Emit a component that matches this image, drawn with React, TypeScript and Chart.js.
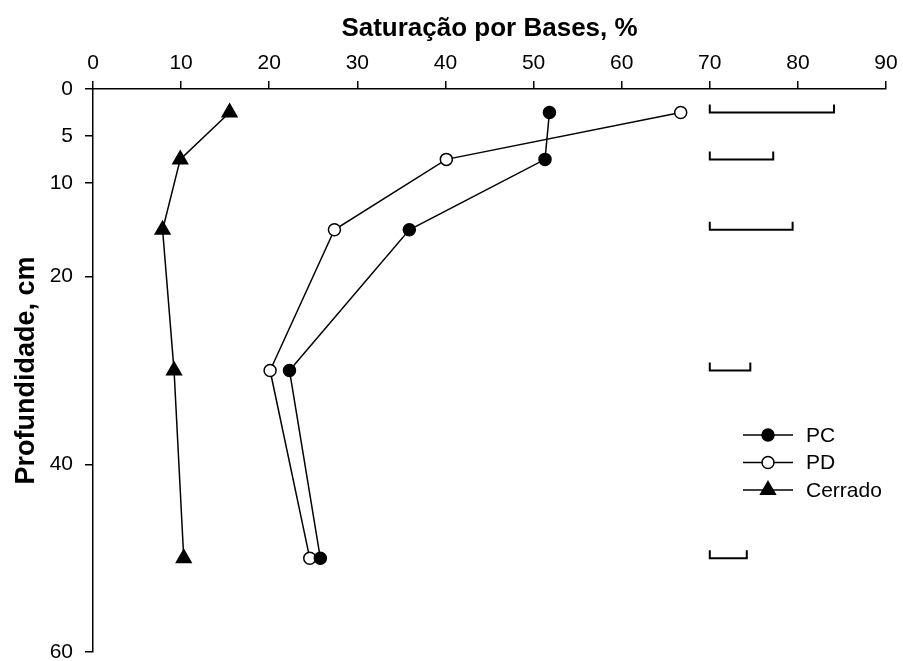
import React, { useEffect, useRef } from "react";
import { Chart, registerables } from "chart.js";

Chart.register(...registerables);

const depths = [2.5, 7.5, 15, 30, 50];
const pcValues = [51.8, 51.3, 35.9, 22.3, 25.8];
const pdValues = [66.7, 40.1, 27.4, 20.1, 24.6];
const cerradoValues = [15.5, 9.9, 7.9, 9.2, 10.3];
const lsdStart = 70;
const lsdValues = [14.1, 7.2, 9.4, 4.6, 4.2];
const yTickValues = [0, 5, 10, 20, 40, 60];
const seriesNames = ["PC", "PD", "Cerrado"];
const xTitle = "Saturação por Bases, %";
const yTitle = "Profundidade, cm";

const FONT = "'Liberation Sans', Arial, Helvetica, sans-serif";

function drawMarker(ctx: CanvasRenderingContext2D, style: string, x: number, y: number, r: number, fill: string) {
  ctx.beginPath();
  if (style === "triangle") {
    ctx.moveTo(x, y - r);
    ctx.lineTo(x + r * Math.sin((2 * Math.PI) / 3), y - r * Math.cos((2 * Math.PI) / 3));
    ctx.lineTo(x + r * Math.sin((4 * Math.PI) / 3), y - r * Math.cos((4 * Math.PI) / 3));
    ctx.closePath();
  } else {
    ctx.arc(x, y, r, 0, Math.PI * 2);
  }
  ctx.fillStyle = fill;
  ctx.fill();
  ctx.stroke();
}

export default function App() {
  const ref = useRef<HTMLCanvasElement | null>(null);
  useEffect(() => {
    if (!ref.current) return;
    const mk = (vals: number[]) => vals.map((v, i) => ({ x: v, y: depths[i] }));
    const styles = [
      { pointStyle: "circle", radius: 6, bg: "#000" },
      { pointStyle: "circle", radius: 6, bg: "#fff" },
      { pointStyle: "triangle", radius: 8.5, bg: "#000" },
    ];
    const seriesValues = [pcValues, pdValues, cerradoValues];

    const lsdPlugin = {
      id: "lsd",
      afterDatasetsDraw(chart: any) {
        const { ctx } = chart;
        const xs = chart.scales.x;
        const ys = chart.scales.y;
        ctx.save();
        ctx.strokeStyle = "#000";
        ctx.lineWidth = 2;
        depths.forEach((d, i) => {
          const py = ys.getPixelForValue(d);
          const x0 = xs.getPixelForValue(lsdStart);
          const x1 = xs.getPixelForValue(lsdStart + lsdValues[i]);
          ctx.beginPath();
          ctx.moveTo(x0, py - 8);
          ctx.lineTo(x0, py);
          ctx.lineTo(x1, py);
          ctx.lineTo(x1, py - 8);
          ctx.stroke();
        });
        ctx.restore();
      },
    };

    const legendPlugin = {
      id: "customLegend",
      afterDraw(chart: any) {
        const { ctx, chartArea } = chart;
        const lx = chartArea.left + 650;
        const ly = chartArea.top + 346;
        ctx.save();
        ctx.strokeStyle = "#000";
        ctx.lineWidth = 1.5;
        ctx.font = `21px ${FONT}`;
        ctx.textBaseline = "middle";
        ctx.textAlign = "left";
        seriesNames.forEach((name, i) => {
          const y = ly + i * 27.5;
          ctx.beginPath();
          ctx.moveTo(lx, y);
          ctx.lineTo(lx + 50, y);
          ctx.stroke();
          drawMarker(ctx, styles[i].pointStyle, lx + 25, y, styles[i].radius, styles[i].bg);
          ctx.fillStyle = "#000";
          ctx.fillText(name, lx + 63, y + 1);
        });
        ctx.restore();
      },
    };

    const chart = new Chart(ref.current, {
      type: "scatter",
      data: {
        datasets: seriesNames.map((name, i) => ({
          label: name,
          data: mk(seriesValues[i]),
          showLine: true,
          borderColor: "#000",
          borderWidth: 1.5,
          backgroundColor: styles[i].bg,
          pointBackgroundColor: styles[i].bg,
          pointBorderColor: "#000",
          pointBorderWidth: 1.5,
          pointStyle: styles[i].pointStyle as any,
          pointRadius: styles[i].radius,
          tension: 0,
        })),
      },
      options: {
        animation: false,
        responsive: false,
        devicePixelRatio: 1,
        layout: { padding: { left: 0, top: 0, right: 17, bottom: 9 }, autoPadding: false },
        plugins: { legend: { display: false }, tooltip: { enabled: false } },
        scales: {
          x: {
            type: "linear",
            position: "top",
            min: 0,
            max: 90,
            ticks: { stepSize: 10, color: "#000", font: { size: 21, family: FONT }, padding: 5 },
            grid: { display: true, drawOnChartArea: false, drawTicks: true, tickLength: 8, color: "#000", lineWidth: 1.5 },
            border: { display: true, color: "#000", width: 1.5 },
            title: { display: true, text: xTitle, color: "#000", font: { size: 26, weight: "bold", family: FONT }, padding: { top: 13, bottom: 0 } },
            afterFit: (s: any) => {
              s.height = 89;
              s.paddingLeft = 0;
              s.paddingRight = 0;
            },
          },
          y: {
            type: "linear",
            position: "left",
            reverse: true,
            min: 0,
            max: 60,
            afterBuildTicks: (s: any) => {
              s.ticks = yTickValues.map((v) => ({ value: v }));
            },
            ticks: { color: "#000", font: { size: 21, family: FONT }, padding: 12, autoSkip: false },
            grid: { display: true, drawOnChartArea: false, drawTicks: true, tickLength: 8, color: "#000", lineWidth: 1.5 },
            border: { display: true, color: "#000", width: 1.5 },
            title: { display: true, text: yTitle, color: "#000", font: { size: 27, weight: "bold", family: FONT }, padding: { top: 10, bottom: 0 } },
            afterFit: (s: any) => {
              s.width = 93;
              s.paddingTop = 0;
              s.paddingBottom = 0;
            },
          },
        },
      } as any,
      plugins: [lsdPlugin, legendPlugin],
    });
    return () => chart.destroy();
  }, []);

  return (
    <div style={{ position: "absolute", left: 0, top: 0, width: 903, height: 661, background: "#fff" }}>
      <canvas ref={ref} width={903} height={661} style={{ display: "block" }} />
    </div>
  );
}
